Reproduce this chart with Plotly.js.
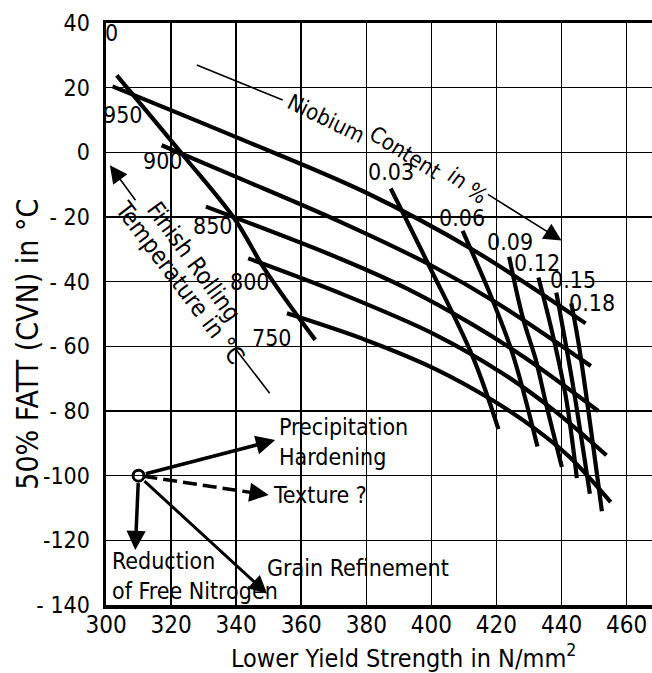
<!DOCTYPE html>
<html>
<head>
<meta charset="utf-8">
<script src="https://cdn.plot.ly/plotly-3.0.1.min.js"></script>
<style>html,body{margin:0;padding:0;background:#fff;}#chart{width:652px;height:673px;}</style>
</head>
<body>
<div id="chart"></div>
<script>
// ---- Finish rolling temperature curves (°C) ----
const tempLabels = ['950', '900', '850', '800', '750'];
const t950x = [302, 340, 380, 413, 447.4];
const t950y = [20.4, 4.7, -12.5, -30.3, -52.9];
const t900x = [317.1, 340, 372, 400, 420, 449];
const t900y = [2.2, -7.6, -21.5, -35, -46.5, -66.1];
const t850x = [330.7, 372, 392.2, 412.7, 429, 451.3];
const t850y = [-16.8, -32.9, -42, -53.3, -63.7, -80];
const t800x = [343.7, 372, 401.4, 421.8, 437.2, 453.8];
const t800y = [-32.8, -43.6, -56.5, -68.3, -79.4, -93.7];
const t750x = [355.6, 380, 401.4, 418.8, 432.1, 442.3, 455.1];
const t750y = [-49.8, -58.1, -67.1, -76.7, -85.7, -94.1, -108.2];

// ---- Niobium content lines (%) ----
const nbLabels = ['0', '0.03', '0.06', '0.09', '0.12', '0.15', '0.18'];
const nb000x = [303.3, 323.7, 339.6, 348.3, 359, 364.3];
const nb000y = [23.8, -0.9, -20.7, -35.4, -50.8, -58];
const nb003x = [387.5, 399.4, 412.7, 420.6];
const nb003y = [-11.2, -35.3, -63.2, -85.6];
const nb006x = [409.6, 418.8, 424.9, 432.6];
const nb006y = [-24.3, -45.7, -62.1, -91];
const nb009x = [423.9, 428, 432.1, 435.2, 440.1];
const nb009y = [-32.3, -50.8, -64.2, -77.6, -97.3];
const nb012x = [432.9, 437.2, 441.3, 444.7];
const nb012y = [-38.7, -56, -75.5, -100.7];
const nb015x = [438.4, 443.5, 448.7];
const nb015y = [-43.4, -72, -105.6];
const nb018x = [443, 445.4, 452.4];
const nb018y = [-46.7, -60.1, -111];

// label anchor values
const tempLabelX = [305.2, 317.5, 332.8, 344.2, 350.9];
const tempLabelY = [11.5, -2.7, -22.8, -40.1, -57.4];
const nbLabelX = [301.8, 387.7, 409.5, 424.2, 432.5, 443.6, 449.4];
const nbLabelY = [36.8, -6.1, -20.3, -27.7, -34.2, -39.5, -46.6];

// ---- Effect vectors ----
const originPt = [310, -100];
const precipTip = [352, -89];
const textureTip = [350, -106];
const nitrogenTip = [309, -123];
const grainTip = [349.5, -136.5];

// ---- Axes ----
const xTickVals = [300, 320, 340, 360, 380, 400, 420, 440, 460];
const xTickText = ['300', '320', '340', '360', '380', '400', '420', '440', '460'];
const yTickVals = [-140, -120, -100, -80, -60, -40, -20, 0, 20, 40];
const yTickText = ['- 140', '-120', '-100', '- 80', '- 60', '- 40', '- 20', '0', '20', '40'];

const FONT = 'DejaVu Sans Condensed, DejaVu Sans, sans-serif';
const thick = {color: '#000', width: 4.2};

const curves = [
  [t950x, t950y], [t900x, t900y], [t850x, t850y], [t800x, t800y], [t750x, t750y],
  [nb000x, nb000y], [nb003x, nb003y], [nb006x, nb006y], [nb009x, nb009y],
  [nb012x, nb012y], [nb015x, nb015y], [nb018x, nb018y]
];
const traces = curves.map(c => ({
  x: c[0], y: c[1], type: 'scatter', mode: 'lines',
  line: Object.assign({shape: 'spline', smoothing: 1}, thick),
  hoverinfo: 'skip', showlegend: false
}));

// dashed shaft of the texture vector
traces.push({
  x: [originPt[0] + 1.5, textureTip[0] - 3], y: [originPt[1] - 0.2, textureTip[1] + 0.45],
  type: 'scatter', mode: 'lines', line: {color: '#000', width: 3.5, dash: '14px,6px'},
  hoverinfo: 'skip', showlegend: false
});
traces.push({
  x: [originPt[0]], y: [originPt[1]], type: 'scatter', mode: 'markers',
  marker: {symbol: 'circle-open', size: 11, color: '#000', line: {width: 3, color: '#000'}},
  hoverinfo: 'skip', showlegend: false
});

const ann = [];
function label(txt, x, y, opts) {
  ann.push(Object.assign({x: x, y: y, xref: 'x', yref: 'y', text: txt, showarrow: false,
    font: {family: FONT, size: 23, color: '#000'}}, opts || {}));
}
tempLabels.forEach((t, i) => label(t, tempLabelX[i], tempLabelY[i]));
nbLabels.forEach((t, i) => label(t, nbLabelX[i], nbLabelY[i]));

function arrow(tip, tail, w, size, extra) {
  ann.push(Object.assign({x: tip[0], y: tip[1], ax: tail[0], ay: tail[1], xref: 'x', yref: 'y',
    axref: 'x', ayref: 'y', text: '', showarrow: true, arrowhead: 2, arrowsize: size,
    arrowwidth: w, arrowcolor: '#000', standoff: 0}, extra || {}));
}
arrow(precipTip, originPt, 3.5, 1.1, {startstandoff: 6});
arrow(nitrogenTip, originPt, 3.5, 1.1, {startstandoff: 6});
arrow(grainTip, originPt, 3, 1.2, {startstandoff: 6});
arrow(textureTip, [textureTip[0] - 3, textureTip[1] + 0.45], 3.5, 1.1);
// guide arrows
arrow([301.2, -4], [309.4, -15.3], 1.6, 2.2);
arrow([440, -27.3], [416.9, -12.7], 1.6, 2.2);

// curved caption "Niobium Content in %" (three pieces following the arc)
const nbCaption = [['Niobium', 367.6, 10.5, 26], ['Content', 391.9, 0.1, 32], ['in %', 411, -10.3, 37]];
nbCaption.forEach(p => ann.push({x: p[1], y: p[2], xref: 'x', yref: 'y', text: p[0], showarrow: false,
  textangle: p[3], font: {family: FONT, size: 22, color: '#000'}}));
ann.push({x: 327, y: -34, xref: 'x', yref: 'y', text: 'Finish Rolling', showarrow: false,
  textangle: 54, font: {family: FONT, size: 24, color: '#000'}});
ann.push({x: 322.7, y: -40.5, xref: 'x', yref: 'y', text: 'Temperature in °C', showarrow: false,
  textangle: 53, font: {family: FONT, size: 24, color: '#000'}});

function leftText(txt, x, y) {
  ann.push({x: x, y: y, xref: 'x', yref: 'y', text: txt, showarrow: false, xanchor: 'left',
    align: 'left', font: {family: FONT, size: 23, color: '#000'}});
}
leftText('Precipitation<br>Hardening', 352.5, -89.5);
leftText('Texture ?', 350.8, -106);
leftText('Reduction<br>of Free Nitrogen', 301.3, -131);
leftText('Grain Refinement', 349, -128.5);

// axis titles
ann.push({x: 0.544, y: -0.0893, xref: 'paper', yref: 'paper', xanchor: 'center', yanchor: 'middle',
  text: 'Lower Yield Strength in N/mm<sup>2</sup>', showarrow: false,
  font: {family: FONT, size: 25, color: '#000'}});
ann.push({x: -0.1438, y: 0.448, xref: 'paper', yref: 'paper', xanchor: 'center', yanchor: 'middle',
  text: '50% FATT (CVN) in °C', showarrow: false, textangle: -90,
  font: {family: FONT, size: 30, color: '#000'}});

const shapes = [
  {type: 'line', xref: 'x', yref: 'y', x0: 327.9, y0: 27, x1: 354.3, y1: 16.2, line: {color: '#000', width: 1.6}},
  {type: 'line', xref: 'x', yref: 'y', x0: 340.1, y0: -61.2, x1: 350.3, y1: -74.5, line: {color: '#000', width: 1.6}}
];

const layout = {
  width: 652, height: 673,
  margin: {l: 106, r: 0, t: 23, b: 68, pad: 0},
  paper_bgcolor: '#fff', plot_bgcolor: '#fff',
  font: {family: FONT, color: '#000'},
  showlegend: false,
  xaxis: {
    range: [300, 467.8], tickvals: xTickVals, ticktext: xTickText, ticks: '',
    showgrid: true, gridcolor: '#000', gridwidth: 1.6, zeroline: false,
    showline: true, linecolor: '#000', linewidth: 3.5, mirror: true,
    tickfont: {family: FONT, size: 24, color: '#000'}, ticklabelstandoff: -4
  },
  yaxis: {
    range: [-140, 40], tickvals: yTickVals, ticktext: yTickText, ticks: '',
    showgrid: true, gridcolor: '#000', gridwidth: 1.6, zeroline: false,
    showline: true, linecolor: '#000', linewidth: 3.5, mirror: false,
    tickfont: {family: FONT, size: 23, color: '#000'}, ticklabelstandoff: 8
  },
  annotations: ann,
  shapes: shapes
};

Plotly.newPlot('chart', traces, layout, {displayModeBar: false, staticPlot: true});
</script>
</body>
</html>
